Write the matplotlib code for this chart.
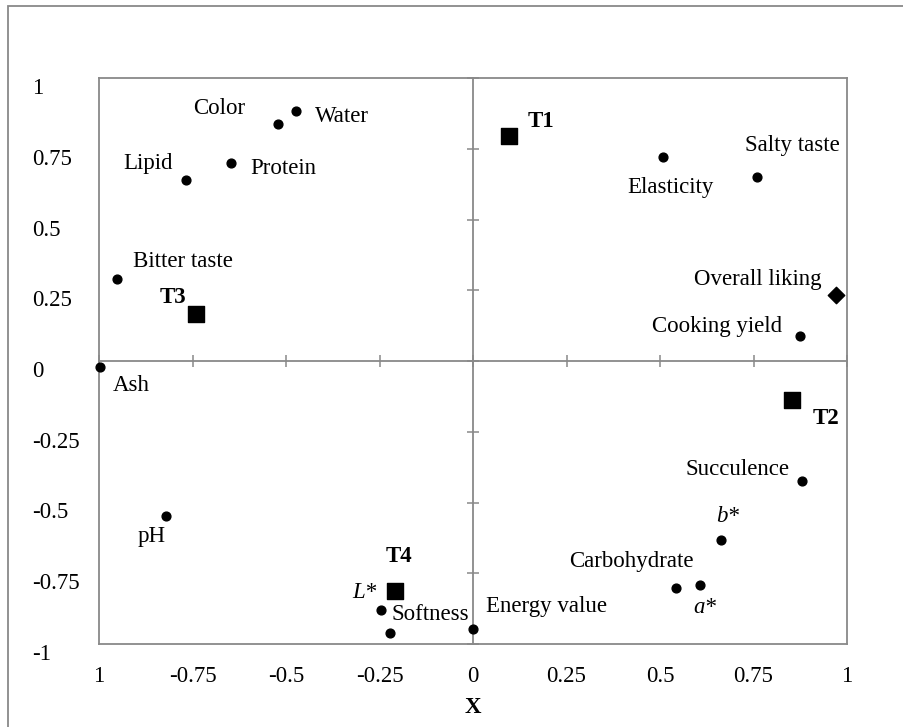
import matplotlib
matplotlib.use("Agg")
import matplotlib.pyplot as plt
from matplotlib.patches import Rectangle

plt.rcParams["font.family"] = ["Liberation Serif", "DejaVu Serif"]

# attributes (circles)
var_names = ["Color", "Water", "Protein", "Lipid", "Bitter taste", "Elasticity",
             "Salty taste", "Cooking yield", "Ash", "pH", "L*", "Softness",
             "Energy value", "Succulence", "b*", "Carbohydrate", "a*"]
var_x = [-0.521, -0.473, -0.647, -0.767, -0.952, 0.508, 0.759, 0.874, -0.997,
         -0.821, -0.246, -0.222, 0.0, 0.880, 0.663, 0.543, 0.607]
var_y = [0.837, 0.883, 0.700, 0.640, 0.290, 0.721, 0.650, 0.088, -0.021,
         -0.548, -0.880, -0.961, -0.947, -0.424, -0.633, -0.802, -0.792]

# overall liking (diamond)
like_name = "Overall liking"
like_x = 0.971
like_y = 0.233

# treatments (squares)
trt_names = ["T1", "T2", "T3", "T4"]
trt_x = [0.096, 0.853, -0.741, -0.209]
trt_y = [0.795, -0.138, 0.166, -0.813]

ticks = [-1, -0.75, -0.5, -0.25, 0, 0.25, 0.5, 0.75, 1]
xtick_labels = ["1", "-0.75", "-0.5", "-0.25", "0", "0.25", "0.5", "0.75", "1"]
ytick_labels = ["-1", "-0.75", "-0.5", "-0.25", "0", "0.25", "0.5", "0.75", "1"]

# label offsets in pixels (dx, dy)
offsets = {
    "Color": (-59, 16), "Water": (46, -5), "Protein": (52, -6), "Lipid": (-38, 16),
    "Bitter taste": (66, 17), "Elasticity": (7, -31), "Salty taste": (36, 32),
    "Cooking yield": (-83, 10), "Ash": (31, -19), "pH": (-14, -20), "L*": (-17, 18),
    "Softness": (40, 18), "Energy value": (74, 23), "Succulence": (-65, 11),
    "b*": (7, 24), "Carbohydrate": (-45, 26), "a*": (5, -22),
    "Overall liking": (-78, 16),
    "T1": (32, 15), "T2": (34, -18), "T3": (-23, 17), "T4": (4, 35),
}

gray = "#898989"
fs = 16.5

fig = plt.figure(figsize=(9.04, 7.27), dpi=100)
fig.patches.append(Rectangle((8 / 904, -0.1), 1.2, (727 - 6) / 727 + 0.1,
                             transform=fig.transFigure, fill=False,
                             edgecolor=gray, linewidth=1.3))
ax = fig.add_axes([99 / 904, 83 / 727, (847 - 99) / 904, (644 - 78) / 727])

ax.scatter(var_x, var_y, s=40, color="black", zorder=3, clip_on=False)
ax.scatter([like_x], [like_y], s=70, marker="D", color="black", zorder=3, clip_on=False)
ax.scatter(trt_x, trt_y, s=130, marker="s", color="black", zorder=3, clip_on=False)

for name, x, y in zip(var_names, var_x, var_y):
    style = "italic" if name in ("L*", "a*", "b*") else "normal"
    ax.annotate(name, (x, y), xytext=offsets[name], textcoords="offset pixels",
                ha="center", va="center", fontsize=fs, style=style)
ax.annotate(like_name, (like_x, like_y), xytext=offsets[like_name],
            textcoords="offset pixels", ha="center", va="center", fontsize=fs)
for name, x, y in zip(trt_names, trt_x, trt_y):
    ax.annotate(name, (x, y), xytext=offsets[name], textcoords="offset pixels",
                ha="center", va="center", fontsize=fs, fontweight="bold")

ax.set_xlim(-1, 1)
ax.set_ylim(-1, 1)
ax.set_xticks(ticks)
ax.set_xticklabels(xtick_labels)
ax.set_yticks(ticks)
ax.set_yticklabels(ytick_labels)
ax.tick_params(axis="x", length=0, pad=16, labelsize=fs)
ax.tick_params(axis="y", length=0, pad=48, labelsize=fs)
for lab in ax.get_yticklabels():
    lab.set_horizontalalignment("left")
    lab.set_verticalalignment("top")
for sp in ax.spines.values():
    sp.set_color(gray)
    sp.set_linewidth(1.3)

# center axes with crossing ticks, no labels
sx = ax.secondary_xaxis(0.5)
sx.set_xticks(ticks)
sx.set_xticklabels([])
sx.tick_params(direction="inout", length=9, width=1.1, color=gray,
               labelbottom=False, labeltop=False)
for sp in sx.spines.values():
    sp.set_color(gray)
    sp.set_linewidth(1.3)
sy = ax.secondary_yaxis(0.5)
sy.set_yticks(ticks)
sy.set_yticklabels([])
sy.tick_params(direction="inout", length=9, width=1.1, color=gray,
               labelleft=False, labelright=False)
for sp in sy.spines.values():
    sp.set_color(gray)
    sp.set_linewidth(1.3)

ax.set_xlabel("X", fontsize=fs, fontweight="bold", labelpad=7)

fig.savefig("out.png", dpi=100)
